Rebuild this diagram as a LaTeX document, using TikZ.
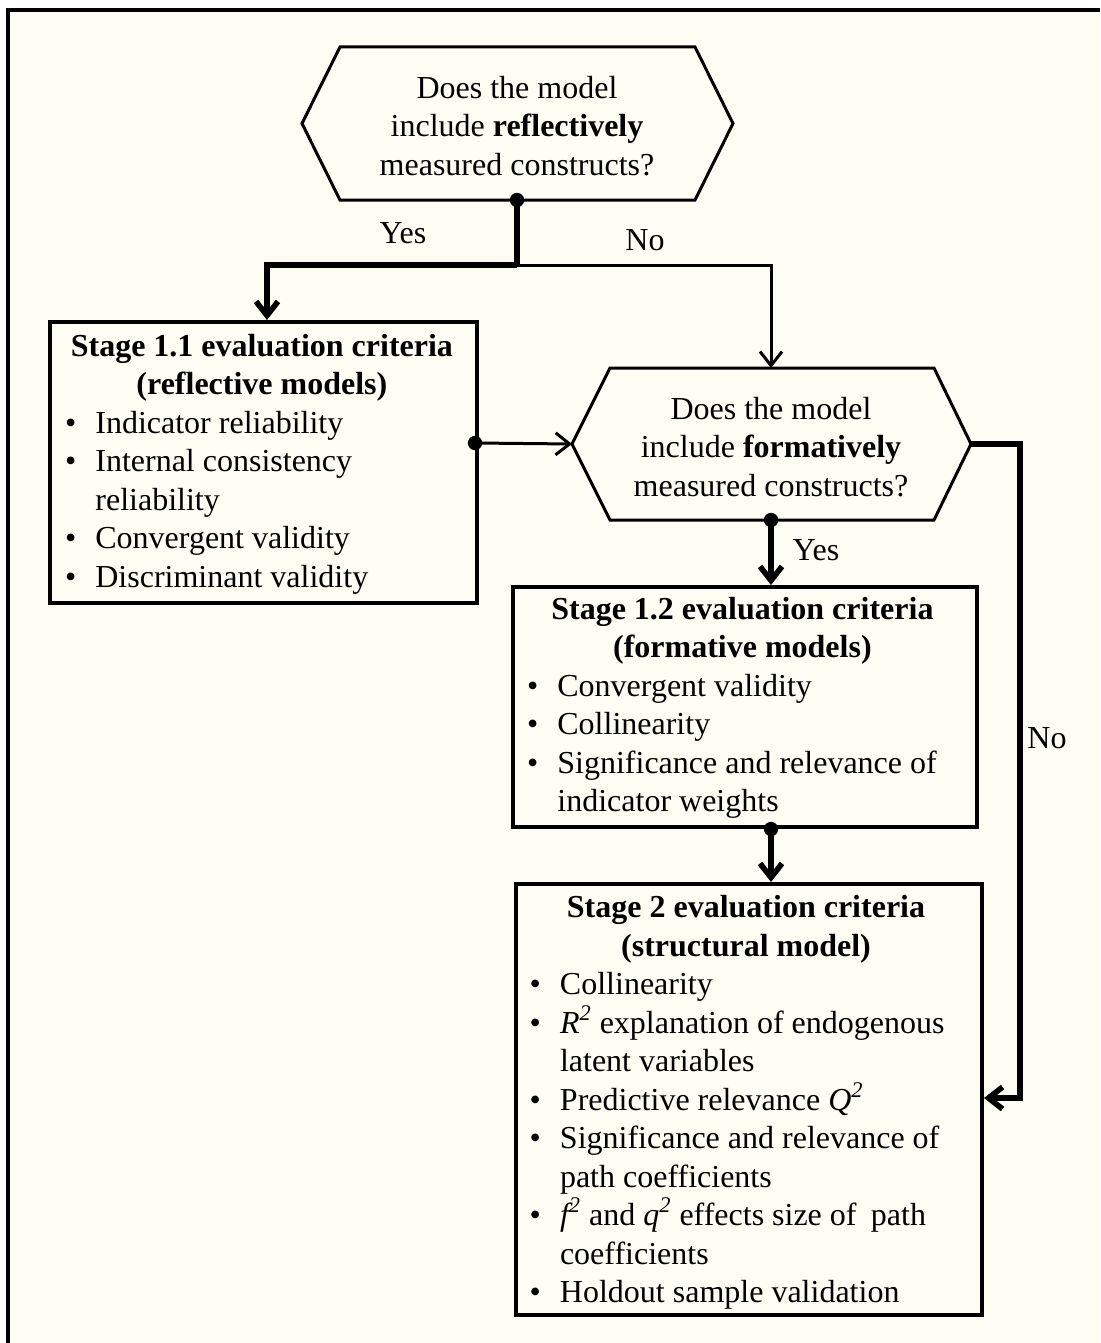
\documentclass[tikz,border=0pt]{standalone}
\usepackage{fontspec}
\setmainfont{Liberation Serif}
\usetikzlibrary{arrows.meta}
\definecolor{paper}{RGB}{254,253,244}
% bullet with its hanging indent, and the indent alone for continued lines
\newcommand\bul{\makebox[23.5pt][l]{\hspace*{8.3pt}\textbullet}}
\newcommand\ind{\hspace*{23.5pt}}

\begin{document}
\begin{tikzpicture}[x=0.5pt,y=-0.5pt,
  txt/.style={font=\fontsize{16}{19.25}\selectfont, inner sep=0pt},
  stagebox/.style={draw, line width=2pt, inner sep=0pt, anchor=north west},
  stagetext/.style={txt, anchor=base west, align=flush left},
  hexline/.style={line width=1.5pt, line join=miter},
  lightline/.style={line width=1.5pt},
  heavyline/.style={line width=2.8pt},
  >={Straight Barb[length=7pt,width=11pt]}
]
\useasboundingbox (0,0) rectangle (1100,1343);
\fill[white] (0,0) rectangle (1100,1343);
\fill[paper] (8,10) rectangle (1100,1343);
\draw[line width=1.75pt] (8,1343) -- (8,10) -- (1100,10);

% first decision
\coordinate (q1w) at (302,123.5);
\coordinate (q1e) at (733,123.5);
\coordinate (q1s) at (517,200);
\draw[hexline] (q1w) -- (340,47) -- (695,47) -- (q1e) -- (695,200) -- (340,200) -- cycle;
\node[txt, align=center] (q1) at (517,126)
  {Does the model\\include \textbf{reflectively}\\measured constructs?};

% second decision
\coordinate (q2w) at (572,444);
\coordinate (q2e) at (971,444);
\coordinate (q2n) at (771,368);
\coordinate (q2s) at (771,520);
\draw[hexline] (q2w) -- (610,368) -- (934,368) -- (q2e) -- (934,520) -- (610,520) -- cycle;
\node[txt, align=center] (q2) at (771,447)
  {Does the model\\include \textbf{formatively}\\measured constructs?};

% stage boxes
\node[stagebox, minimum width=213.5pt, minimum height=140.5pt] (b1) at (48,320) {};
\node[stagetext, text width=213.5pt] (t1) at ([yshift=-18pt]b1.north west) {%
{\centering\bfseries Stage 1.1 evaluation criteria\\(reflective models)\par}
\bul Indicator reliability\\
\bul Internal consistency\\
\ind reliability\\
\bul Convergent validity\\
\bul Discriminant validity};

\node[stagebox, minimum width=232pt, minimum height=120pt] (b2) at (511,585) {};
\node[stagetext, text width=232pt] (t2) at ([yshift=-17pt,xshift=-0.5pt]b2.north west) {%
{\centering\bfseries Stage 1.2 evaluation criteria\\(formative models)\par}
\bul Convergent validity\\
\bul Collinearity\\
\bul Significance and relevance of\\
\ind indicator weights};

\node[stagebox, minimum width=233pt, minimum height=215.5pt] (b3) at (514,882) {};
\node[stagetext, text width=233pt] (t3) at ([yshift=-17.75pt,xshift=-0.7pt]b3.north west) {%
{\centering\bfseries Stage 2 evaluation criteria\\(structural model)\par}
\bul Collinearity\\
\bul \textit{R\textsuperscript{2}} explanation of endogenous\\
\ind latent variables\\
\bul Predictive relevance \textit{Q\textsuperscript{2}}\\
\bul Significance and relevance of\\
\ind path coefficients\\
\bul \textit{f\textsuperscript{2}} and \textit{q\textsuperscript{2}} effects size of\hspace{0.2em} path\\
\ind coefficients\\
\bul Holdout sample validation};

% connectors
\coordinate (j1) at (517,265);
\coordinate (b1in) at (267,320);
\coordinate (b1out) at (475,443);
\coordinate (k1) at (1020,444);
\coordinate (k2) at (1020,1098);
\coordinate (b2out) at (q2s |- b2.south);

\draw[heavyline] (q1s) -- (j1);
\draw[heavyline, ->] (j1) -| (b1in);
\draw[lightline, ->] (j1) -| (q2n);
\draw[lightline, ->] (b1out) -- (q2w);
\draw[heavyline, ->] (q2s) -- (q2s |- b2.north);
\draw[heavyline, ->, line join=miter] (q2e) -- (k1) -- (k2) -- (k2 -| b3.east);
\draw[heavyline, ->] (b2out) -- (b2out |- b3.north);

\fill (q1s) circle (3.6pt);
\fill (b1out) circle (3.6pt);
\fill (q2s) circle (3.6pt);
\fill (b2out) circle (3.6pt);

% branch labels
\node[txt] (yes1) at (403,233) {Yes};
\node[txt] (no1) at (645,240) {No};
\node[txt] (yes2) at (816,550) {Yes};
\node[txt] (no2) at (1047,738) {No};
\end{tikzpicture}
\end{document}
